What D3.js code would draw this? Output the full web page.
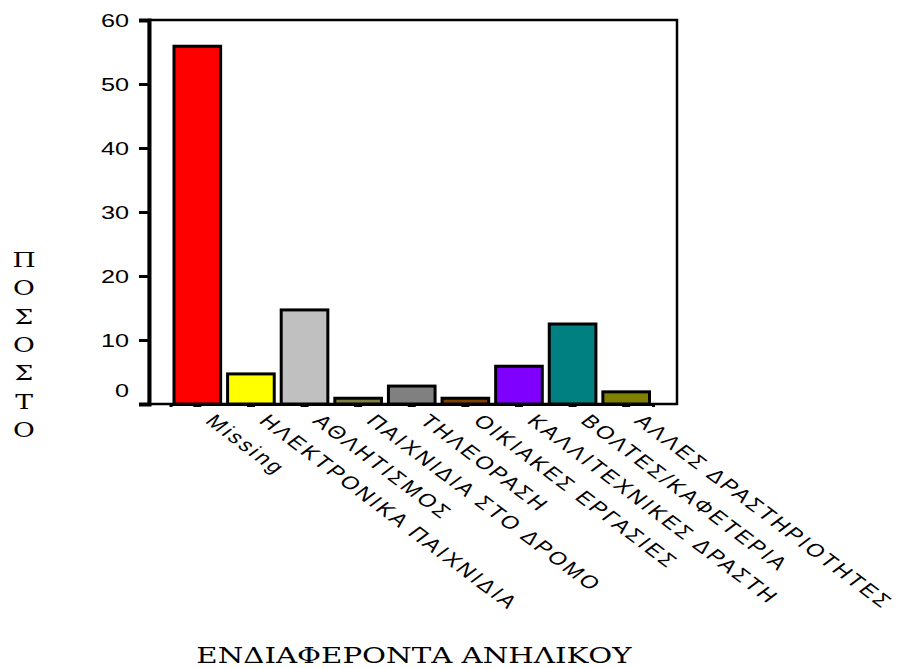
<!DOCTYPE html>
<html>
<head>
<meta charset="utf-8">
<script src="https://cdn.jsdelivr.net/npm/d3@7"></script>
<style>
  html, body { margin: 0; padding: 0; background: #ffffff; }
  svg { display: block; }
</style>
</head>
<body>
<svg id="chart" width="901" height="668"></svg>
<script>
// ---- data ----
const categories = [
  "Missing",
  "ΗΛΕΚΤΡΟΝΙΚΑ ΠΑΙΧΝΙΔΙΑ",
  "ΑΘΛΗΤΙΣΜΟΣ",
  "ΠΑΙΧΝΙΔΙΑ ΣΤΟ ΔΡΟΜΟ",
  "ΤΗΛΕΟΡΑΣΗ",
  "ΟΙΚΙΑΚΕΣ ΕΡΓΑΣΙΕΣ",
  "ΚΑΛΛΙΤΕΧΝΙΚΕΣ ΔΡΑΣΤΗ",
  "ΒΟΛΤΕΣ/ΚΑΦΕΤΕΡΙΑ",
  "ΑΛΛΕΣ ΔΡΑΣΤΗΡΙΟΤΗΤΕΣ"
];
const values = [55.9, 4.7, 14.7, 0.9, 2.8, 0.9, 5.9, 12.5, 1.9];
const barColors = ["#ff0000", "#ffff00", "#c0c0c0", "#808040", "#808080", "#804000", "#8000ff", "#008080", "#808000"];
const yTicks = [0, 10, 20, 30, 40, 50, 60];
const yTitle = "ΠΟΣΟΣΤΟ";
const xTitle = "ΕΝΔΙΑΦΕΡΟΝΤΑ ΑΝΗΛΙΚΟΥ";

// ---- layout ----
const SX = 1.33;            // horizontal stretch of all text
const plot = { left: 149, right: 677, top: 20, bottom: 404 };
const svg = d3.select("#chart");

const x = d3.scaleBand()
  .domain(categories)
  .range([170.5, 653])
  .paddingInner(0.13)
  .paddingOuter(0.065);

const y = d3.scaleLinear().domain([0, 60]).range([plot.bottom, plot.top]);

// frame
svg.append("rect")
  .attr("x", plot.left).attr("y", plot.top)
  .attr("width", plot.right - plot.left).attr("height", plot.bottom - plot.top)
  .attr("fill", "#ffffff").attr("stroke", "#000").attr("stroke-width", 2.5);

// bars
const data = categories.map((c, i) => ({ c, v: values[i], col: barColors[i] }));
svg.append("g").selectAll("rect").data(data).join("rect")
  .attr("x", d => x(d.c))
  .attr("y", d => y(d.v))
  .attr("width", x.bandwidth())
  .attr("height", d => y(0) - y(d.v))
  .attr("fill", d => d.col)
  .attr("stroke", "#000")
  .attr("stroke-width", 3);

// y axis
const yAxis = svg.append("g")
  .attr("transform", `translate(${plot.left},0)`)
  .call(d3.axisLeft(y).tickValues(yTicks).tickSize(10).tickPadding(0));
yAxis.select(".domain").attr("stroke", "#000").attr("stroke-width", 4);
yAxis.selectAll(".tick line").attr("stroke", "#000").attr("stroke-width", 3);
yAxis.selectAll(".tick text")
  .attr("x", -20 / SX)
  .attr("dy", d => d === 0 ? "-0.4em" : "0.36em")
  .attr("transform", `scale(${SX},1)`)
  .attr("text-anchor", "end")
  .style("font-family", "'Liberation Sans', Arial, sans-serif")
  .style("font-size", "19px")
  .attr("fill", "#000");

// x axis
const xAxis = svg.append("g")
  .attr("transform", `translate(0,${plot.bottom})`)
  .call(d3.axisBottom(x).tickSize(3).tickFormat(""));
xAxis.select(".domain").attr("stroke", "#000").attr("stroke-width", 3);
xAxis.selectAll(".tick line").attr("stroke", "#000").attr("stroke-width", 8);

// category labels (rotated, stretched)
svg.append("g").selectAll("text").data(categories).join("text")
  .attr("transform", d => `translate(${x(d) + x.bandwidth() / 2 + 7},${plot.bottom + 18}) scale(${SX},1) rotate(45)`)
  .attr("text-anchor", "start")
  .style("font-family", "'Liberation Sans', Arial, sans-serif")
  .style("font-size", "18px")
  .style("letter-spacing", "2.2px")
  .attr("fill", "#000")
  .text(d => d);

// y title (stacked letters)
svg.append("g").selectAll("text").data(Array.from(yTitle)).join("text")
  .attr("transform", (d, i) => `translate(24,${267 + i * 28.3}) scale(${SX},1)`)
  .attr("text-anchor", "middle")
  .style("font-family", "'DejaVu Serif', serif")
  .style("font-size", "20px")
  .attr("fill", "#000")
  .text(d => d);

// x title
svg.append("text")
  .attr("transform", `translate(414,663) scale(${SX},1)`)
  .attr("text-anchor", "middle")
  .style("font-family", "'DejaVu Serif', serif")
  .style("font-size", "22px")
  .attr("fill", "#000")
  .text(xTitle);
</script>
</body>
</html>
